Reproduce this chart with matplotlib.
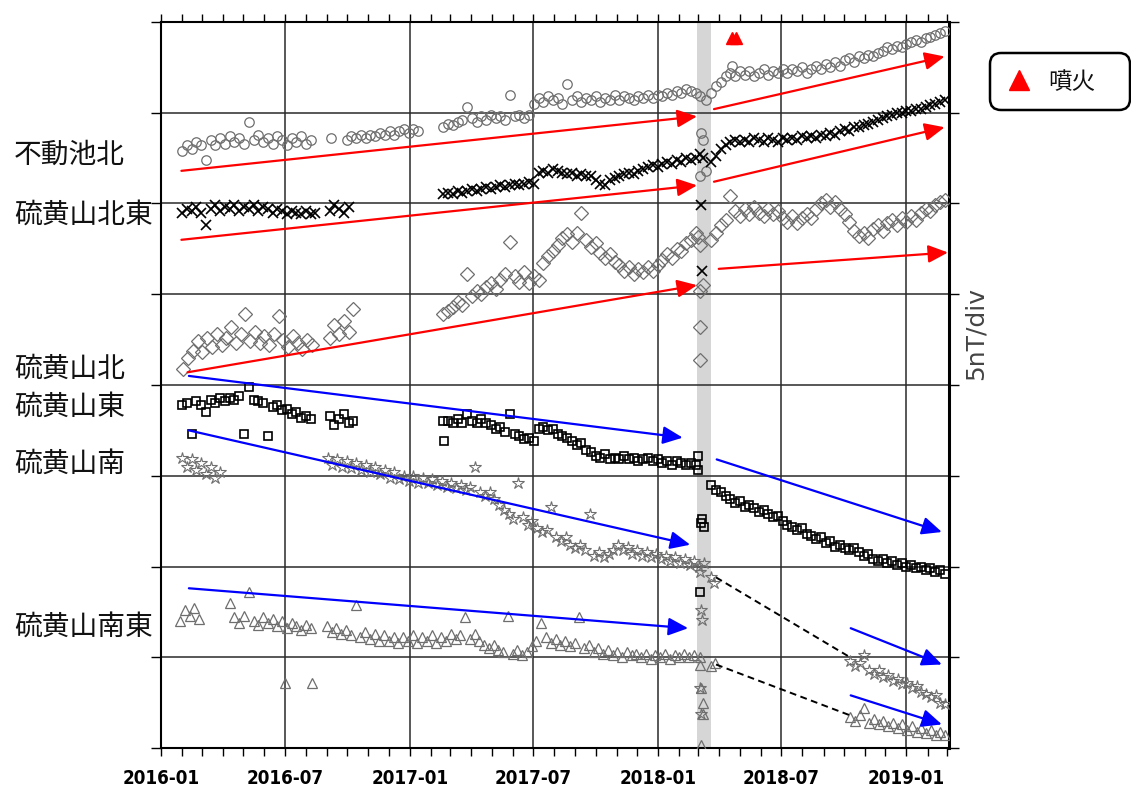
import matplotlib
matplotlib.use("Agg")
import matplotlib.pyplot as plt
import matplotlib.dates as mdates
from matplotlib.patches import FancyBboxPatch
from matplotlib.lines import Line2D
from matplotlib import font_manager as fm
import numpy as np
import pandas as pd

# ---------------- data (nT, weekly samples) ----------------
station_labels = ["不動池北", "硫黄山北東", "硫黄山北", "硫黄山東", "硫黄山南", "硫黄山南東"]
label_rows_px = [155, 215, 369, 407, 464, 627]

# 不動池北 (circles)
fudo_starts = ["2016-02-01", "2016-09-30", "2017-02-19", "2018-03-20"]
fudo_a = [32.9, 33.2, 33.0, 33.4, 33.2, 32.4, 33.5, 33.2, 33.6, 33.3, 33.7, 33.4, 33.6, 33.3,
          34.5, 33.5, 33.8, 33.4, 33.6, 33.3, 33.7, 33.5, 33.2, 33.6, 33.4, 33.7, 33.3, 33.5]
fudo_b = [33.5, 33.7, 33.6, 33.8, 33.6, 33.8, 33.7, 33.9, 33.8, 34.0, 33.8, 34.0, 34.1, 33.9, 34.1, 34.0]
fudo_c = [34.2, 34.4, 34.3, 34.5, 34.6, 35.3, 34.7, 34.5, 34.8, 34.6,
          34.9, 34.7, 34.8, 34.6, 36.0, 34.8, 34.9, 34.7, 34.9, 35.5,
          35.8, 35.6, 35.9, 35.7, 35.8, 35.5, 36.6, 35.7, 35.9, 35.6,
          35.8, 35.7, 35.9, 35.6, 35.8, 35.7, 36.0, 35.7, 35.9, 35.8,
          35.7, 35.9, 35.8, 36.0, 35.8, 36.0, 35.9, 36.1, 36.0, 36.2,
          36.1, 36.3, 36.2, 36.1]
fudo_d = [36.1, 36.5, 36.7, 37.0, 37.2, 37.0, 37.3, 37.1, 37.3, 37.0,
          37.2, 37.4, 37.1, 37.3, 37.2, 37.4, 37.2, 37.4, 37.3, 37.5,
          37.2, 37.4, 37.6, 37.4, 37.7, 37.5, 37.8, 37.6, 37.9, 38.0,
          37.8, 38.1, 38.0, 38.2, 38.1, 38.3, 38.4, 38.6, 38.5, 38.7,
          38.6, 38.8, 38.9, 39.0, 38.9, 39.1, 39.2, 39.3, 39.4, 39.5]
fudo_extra_dates = ["2016-09-07", "2018-03-04", "2018-03-12", "2018-03-05", "2018-03-08",
                    "2018-03-03", "2018-03-12", "2018-04-19"]
fudo_extra_vals = [33.6, 35.95, 35.7, 33.9, 33.5, 31.5, 31.8, 37.6]

# 硫黄山北東 (x marks)
ne_starts = ["2016-02-01", "2016-09-05", "2017-02-19", "2018-03-20"]
ne_a = [29.5, 29.7, 29.6, 29.8, 29.5, 28.8, 29.7, 29.9, 29.6, 29.8,
        29.7, 29.9, 29.6, 29.8, 29.7, 29.9, 29.6, 29.8, 29.7, 29.5,
        29.7, 29.6, 29.4, 29.6, 29.5, 29.4, 29.6, 29.4, 29.5]
ne_b = [29.6, 29.9, 29.7, 29.5, 29.8]
ne_c = [30.5, 30.6, 30.5, 30.7, 30.6, 30.7, 30.8, 30.7, 30.8, 30.9,
        30.8, 30.9, 31.0, 30.9, 31.0, 31.1, 31.0, 31.1, 31.2, 31.1,
        31.7, 31.8, 31.7, 31.9, 31.8, 31.7, 31.6, 31.7, 31.5, 31.6,
        31.5, 31.5, 31.3, 31.1, 31.0, 31.3, 31.4, 31.5, 31.6, 31.7,
        31.6, 31.8, 31.9, 32.0, 32.1, 32.0, 32.2, 32.3, 32.2, 32.4,
        32.3, 32.5, 32.4, 32.5]
ne_d = [32.3, 32.6, 33.0, 33.2, 33.4, 33.5, 33.4, 33.5, 33.4, 33.6,
        33.5, 33.4, 33.6, 33.5, 33.4, 33.6, 33.5, 33.6, 33.5, 33.7,
        33.6, 33.7, 33.6, 33.8, 33.7, 33.9, 33.8, 34.0, 34.1, 34.0,
        34.2, 34.2, 34.3, 34.4, 34.5, 34.6, 34.7, 34.8, 34.9, 35.0,
        35.0, 35.1, 35.1, 35.2, 35.2, 35.3, 35.4, 35.5, 35.6, 35.7]
ne_extra_dates = ["2018-03-03", "2018-03-08", "2018-03-05", "2018-03-06"]
ne_extra_vals = [32.7, 32.5, 29.9, 26.3]

# 硫黄山北 (diamonds)
n_starts = ["2016-02-03", "2016-09-05", "2017-02-19", "2018-03-20"]
n_a = [20.9, 21.5, 21.9, 22.4, 21.8, 22.6, 22.1, 22.8, 22.2, 22.6,
       23.2, 22.3, 22.8, 23.9, 22.4, 22.9, 22.3, 22.7, 22.2, 22.8,
       23.8, 22.5, 22.1, 22.7, 22.3, 22.0, 22.5, 22.2]
n_b = [22.6, 23.3, 22.8, 23.5, 22.9, 24.2]
n_c = [23.9, 24.1, 24.3, 24.6, 24.4, 26.1, 24.9, 25.2, 25.0, 25.4,
       25.6, 25.3, 25.8, 26.1, 27.9, 26.0, 25.7, 26.2, 25.6, 26.0,
       25.8, 26.7, 27.1, 27.4, 27.7, 28.1, 28.3, 27.9, 28.4, 29.5,
       28.0, 27.6, 27.8, 27.3, 27.0, 27.2, 26.8, 26.6, 26.3, 26.5,
       26.1, 26.4, 26.2, 26.5, 26.3, 26.6, 26.9, 27.2, 27.0, 27.5,
       27.4, 27.8, 28.0, 28.4]
n_d = [28.0, 28.4, 28.8, 29.1, 30.4, 29.6, 29.3, 29.7, 29.4, 29.8,
       29.5, 29.3, 29.7, 29.4, 29.6, 29.2, 29.0, 29.3, 28.9, 29.2,
       29.4, 29.2, 29.7, 30.0, 30.2, 29.8, 30.1, 29.7, 29.4, 29.0,
       28.5, 28.2, 28.4, 28.1, 28.6, 28.8, 28.5, 28.9, 29.1, 28.8,
       29.2, 29.0, 29.3, 29.1, 29.5, 29.7, 29.6, 29.9, 30.1, 30.2]
n_extra_dates = ["2018-03-01", "2018-03-04", "2018-03-08", "2018-03-04", "2018-03-04", "2018-03-04"]
n_extra_vals = [28.15, 27.7, 25.5, 25.2, 23.2, 21.4]

# 硫黄山東 (squares)
e_starts = ["2016-02-01", "2016-09-05", "2017-02-19", "2018-03-20"]
e_a = [18.9, 19.0, 17.3, 19.1, 18.9, 18.5, 19.2, 19.0, 19.3, 19.1,
       19.3, 19.2, 19.4, 17.3, 19.9, 19.2, 19.1, 19.0, 17.2, 18.8,
       18.9, 18.6, 18.7, 18.4, 18.5, 18.2, 18.3, 18.1]
e_b = [18.3, 17.8, 18.1, 18.4, 17.9, 18.0]
e_c = [18.0, 18.0, 17.9, 18.1, 17.9, 18.4, 18.0, 17.9, 18.1, 17.9,
       17.8, 17.6, 17.7, 17.4, 18.4, 17.3, 17.2, 17.0, 17.1, 16.9,
       17.6, 17.7, 17.5, 17.6, 17.3, 17.2, 17.1, 16.9, 16.7, 16.8,
       16.4, 16.3, 16.1, 16.0, 16.2, 15.9, 16.0, 15.9, 16.1, 15.9,
       16.0, 15.8, 15.9, 16.0, 15.8, 15.9, 15.7, 15.8, 15.6, 15.8,
       15.7, 15.6, 15.7, 15.6]
e_d = [14.5, 14.2, 14.1, 13.9, 13.7, 13.5, 13.6, 13.3, 13.4, 13.2,
       13.0, 13.1, 12.9, 12.7, 12.8, 12.5, 12.3, 12.2, 12.0, 12.1,
       11.8, 11.7, 11.5, 11.6, 11.3, 11.4, 11.1, 11.2, 11.0, 10.9,
       11.0, 10.8, 10.6, 10.7, 10.4, 10.3, 10.4, 10.2, 10.3, 10.1,
       10.2, 10.0, 10.1, 9.9, 10.0, 9.8, 9.9, 9.7, 9.8, 9.6]
e_extra_dates = ["2017-02-20", "2018-03-01", "2018-03-01", "2018-03-05", "2018-03-07",
                 "2018-03-09", "2018-03-04"]
e_extra_vals = [16.9, 16.1, 15.3, 12.4, 12.6, 12.2, 8.6]

# 硫黄山南 (stars)
s_starts = ["2016-02-01", "2016-09-02", "2018-10-10"]
s_a = [16.0, 15.5, 15.9, 15.3, 15.7, 15.1, 15.5, 14.9, 15.2]
s_b = [16.0, 15.6, 15.9, 15.5, 15.8, 15.4, 15.7, 15.3, 15.6, 15.2,
       15.5, 15.1, 15.3, 14.9, 15.2, 14.8, 15.0, 14.7, 15.0, 14.6,
       14.9, 14.6, 14.8, 14.5, 14.7, 14.4, 14.6, 14.3, 14.5, 14.2,
       14.4, 15.5, 14.1, 13.9, 14.1, 13.7, 13.4, 13.1, 12.9, 12.6,
       14.6, 12.7, 12.3, 12.5, 12.1, 11.9, 12.0, 13.3, 11.6, 11.4,
       11.6, 11.2, 11.0, 11.2, 10.9, 12.9, 10.6, 10.8, 10.5, 10.7,
       10.9, 11.2, 10.9, 11.1, 10.7, 10.9, 10.6, 10.8, 10.5, 10.7,
       10.4, 10.6, 10.3, 10.5, 10.2, 10.4, 10.1, 10.3, 10.0, 10.2]
s_d = [4.8, 4.5, 4.7, 5.1, 4.3, 4.1, 4.3, 3.9, 4.0, 3.7,
       3.8, 3.5, 3.6, 3.3, 3.4, 3.1, 3.0, 2.8, 2.9, 2.5, 2.4]
s_extra_dates = ["2018-03-04", "2018-03-05", "2018-03-06", "2018-03-04", "2018-03-05",
                 "2018-03-20", "2018-03-24"]
s_extra_vals = [9.7, 7.6, 7.05, 3.3, 1.9, 9.4, 9.1]

# 硫黄山南東 (triangles)
se_starts = ["2016-01-29", "2016-04-11", "2016-09-01", "2018-10-10"]
se_a = [7.0, 7.6, 7.3, 7.7, 7.1]
se_b = [8.0, 7.2, 6.9, 7.3, 8.6, 7.0, 6.8, 7.2, 6.9, 7.1, 6.7, 7.0, 6.6, 6.9, 6.7, 6.5, 6.8, 6.6]
se_c = [6.7, 6.4, 6.6, 6.3, 6.5, 6.2, 7.9, 6.1, 6.4, 6.0,
        6.3, 5.9, 6.2, 5.9, 6.1, 5.8, 6.1, 5.9, 6.2, 5.8,
        6.1, 5.9, 6.2, 5.8, 6.1, 5.9, 6.3, 6.0, 6.2, 7.2,
        6.0, 6.3, 5.9, 5.7, 5.5, 5.7, 5.4, 5.3, 7.3, 5.2,
        5.4, 5.1, 5.3, 5.6, 5.9, 6.9, 6.1, 5.8, 6.0, 5.7,
        5.9, 5.6, 5.8, 7.2, 5.5, 5.7, 5.3, 5.5, 5.2, 5.4,
        5.1, 5.3, 5.0, 5.3, 5.1, 5.2, 5.0, 5.2, 4.9, 5.1,
        5.0, 5.2, 4.9, 5.1, 5.0, 5.2, 5.0, 5.1]
se_d = [1.7, 1.5, 1.8, 2.2, 1.4, 1.6, 1.3, 1.5, 1.2, 1.4,
        1.1, 1.3, 1.0, 1.2, 0.9, 1.1, 0.8, 1.0, 0.7, 0.9, 0.7]
se_extra_dates = ["2016-07-01", "2016-08-10", "2018-03-04", "2018-03-04", "2018-03-05",
                  "2018-03-08", "2018-03-08", "2018-03-05", "2018-03-20", "2018-03-26"]
se_extra_vals = [3.6, 3.6, 5.0, 4.6, 3.3, 2.5, 1.9, 0.15, 4.5, 4.7]

# eruption dates and level
eruption_dates = ["2018-04-19", "2018-04-26"]
eruption_level = 39.1
band_start, band_end = "2018-02-27", "2018-03-19"

# trend arrows (start date, start nT, end date, end nT)
red_arrows = [("2016-01-31", 31.8, "2018-02-27", 34.8),
              ("2016-01-31", 28.0, "2018-02-27", 31.0),
              ("2016-02-09", 20.7, "2018-02-27", 25.5),
              ("2018-03-24", 35.2, "2019-02-26", 38.1),
              ("2018-03-24", 31.2, "2019-02-26", 34.2),
              ("2018-03-31", 26.4, "2019-03-03", 27.3)]
blue_arrows = [("2016-02-11", 20.5, "2018-02-06", 17.1),
               ("2016-02-11", 17.5, "2018-02-17", 11.2),
               ("2016-02-11", 8.8, "2018-02-14", 6.6),
               ("2018-03-28", 15.9, "2019-02-22", 11.9),
               ("2018-10-11", 6.6, "2019-02-22", 4.6),
               ("2018-10-11", 2.9, "2019-02-22", 1.3)]
dashed_lines = [("2018-03-27", 9.4, "2018-10-10", 5.0),
                ("2018-03-27", 4.6, "2018-10-10", 1.8)]

# ---------------- fonts ----------------
cjk = "Noto Sans CJK JP"
tick_prop = None
tick_size = 14
for f in fm.fontManager.ttflist:
    nm = f.name.lower()
    is_narrow = ("narrow" in nm) or ("condensed" in nm) or (str(f.stretch) in ("condensed", "semi-condensed", "600", "500"))
    wt = f.weight if isinstance(f.weight, int) else {"bold": 700}.get(str(f.weight), 400)
    if is_narrow and wt >= 700 and ("liberation" in nm or "dejavu" in nm or "roboto" in nm or "noto" in nm or "open" in nm):
        tick_prop = fm.FontProperties(fname=f.fname)
        tick_size = 15 if "narrow" in nm or "liberation" in nm else 13.5
        break
if tick_prop is None:
    tick_prop = fm.FontProperties(family="Liberation Sans", weight="bold")

# ---------------- plotting ----------------
W, H = 1131, 791
fig = plt.figure(figsize=(W / 100, H / 100), dpi=100)
ax = fig.add_axes([161 / W, (H - 748) / H, (949 - 161) / W, (748 - 22) / H])


def weekly(start, vals):
    return pd.date_range(start, periods=len(vals), freq="7D")


def draw(starts, segs, edates, evals, **kw):
    for st, seg in zip(starts, segs):
        ax.plot(weekly(st, seg), seg, ls="none", **kw)
    ax.plot(pd.to_datetime(edates), evals, ls="none", **kw)


gray = "#6e6e6e"
draw(fudo_starts, [fudo_a, fudo_b, fudo_c, fudo_d], fudo_extra_dates, fudo_extra_vals,
     marker="o", ms=6.8, mfc="none", mec=gray, mew=0.9, zorder=3)
draw(ne_starts, [ne_a, ne_b, ne_c, ne_d], ne_extra_dates, ne_extra_vals,
     marker="x", ms=6.5, color="black", mew=1.2, zorder=3)
draw(n_starts, [n_a, n_b, n_c, n_d], n_extra_dates, n_extra_vals,
     marker="D", ms=6.8, mfc="none", mec=gray, mew=0.9, zorder=3)
draw(e_starts, [e_a, e_b, e_c, e_d], e_extra_dates, e_extra_vals,
     marker="s", ms=5.8, mfc="none", mec="black", mew=1.2, zorder=3)
draw(s_starts, [s_a, s_b, s_d], s_extra_dates, s_extra_vals,
     marker="*", ms=9, mfc="none", mec=gray, mew=0.8, zorder=3)
draw(se_starts, [se_a, se_b, se_c, se_d], se_extra_dates, se_extra_vals,
     marker="^", ms=7.3, mfc="none", mec=gray, mew=0.9, zorder=3)

ax.axvspan(pd.Timestamp(band_start), pd.Timestamp(band_end), color="#d6d6d6", lw=0, zorder=0.3)

ax.plot(pd.to_datetime(eruption_dates), [eruption_level] * len(eruption_dates), ls="none",
        marker="^", ms=9, color="red", zorder=4)


def arrow(seg, color):
    d0, v0, d1, v1 = seg
    ax.annotate("", xy=(mdates.date2num(pd.Timestamp(d1)), v1),
                xytext=(mdates.date2num(pd.Timestamp(d0)), v0),
                arrowprops=dict(arrowstyle="-|>,head_length=0.8,head_width=0.36",
                                color=color, lw=1.6, shrinkA=0, shrinkB=0,
                                mutation_scale=15),
                annotation_clip=False, zorder=5)


for a in red_arrows:
    arrow(a, "#ff0000")
for a in blue_arrows:
    arrow(a, "#0000ff")
for d0, v0, d1, v1 in dashed_lines:
    ax.plot(pd.to_datetime([d0, d1]), [v0, v1], color="black", lw=1.4,
            ls=(0, (3.5, 2.3)), zorder=5)

ax.set_xlim(pd.Timestamp("2016-01-01"), pd.Timestamp("2019-03-04 12:00"))
ax.set_ylim(0, 40)
ax.set_yticks(np.arange(0, 41, 5))
ax.set_yticklabels([])
ax.xaxis.set_major_locator(mdates.MonthLocator(bymonth=[1, 7]))
ax.xaxis.set_major_formatter(mdates.DateFormatter("%Y-%m"))
ax.xaxis.set_minor_locator(mdates.MonthLocator())
ax.tick_params(axis="x", which="both", direction="out", top=True, bottom=True,
               length=6, width=1.0, pad=9)
ax.tick_params(axis="y", which="both", direction="out", left=True, right=True,
               length=7, width=1.0)
for lab in ax.get_xticklabels():
    lab.set_fontproperties(tick_prop)
    lab.set_fontsize(tick_size)
    lab.set_fontweight("bold")
ax.set_axisbelow(True)
ax.grid(True, which="major", color="#2a2a2a", lw=1.1)
for side, sp in ax.spines.items():
    sp.set_linewidth(1.5)
ax.spines["right"].set_linewidth(2.2)

for lab, ypx in zip(station_labels, label_rows_px):
    fig.text(14 / W, 1 - ypx / H, lab, ha="left", va="center", fontsize=20,
             family=[cjk, "DejaVu Sans"], color="#111111")

fig.text(976 / W, 1 - 334 / H, "5nT/div", rotation=90, ha="center", va="center",
         fontsize=18, color="#444444")

# legend box for eruption marker
box = FancyBboxPatch((9.90, (H - 110) / 100), 1.40, 0.57,
                     boxstyle="round,pad=0,rounding_size=0.11",
                     transform=fig.dpi_scale_trans, fc="white", ec="black", lw=1.8)
fig.add_artist(box)
fig.add_artist(Line2D([10.19], [(H - 80) / 100], transform=fig.dpi_scale_trans,
                      marker="^", ms=15, color="red", ls="none"))
fig.text(1048 / W, 1 - 83 / H, "噴火", ha="left", va="center", fontsize=17,
         family=[cjk, "DejaVu Sans"], color="#111111")

fig.savefig("out.png", dpi=100)
